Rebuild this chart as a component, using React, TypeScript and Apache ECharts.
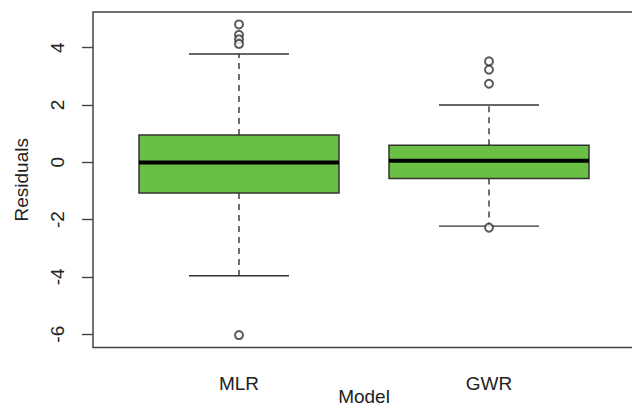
import React, { useEffect, useRef } from "react";
import * as echarts from "echarts";

const categories = ["MLR", "GWR"];
const whiskerLow = [-3.96, -2.23];
const q1 = [-1.07, -0.57];
const median = [-0.01, 0.05];
const q3 = [0.95, 0.59];
const whiskerHigh = [3.78, 2.0];
const outliersMLR = [4.81, 4.45, 4.29, 4.13, -6.03];
const outliersGWR = [3.52, 3.23, 2.74, -2.28];
const yTicks = [-6, -4, -2, 0, 2, 4];

const FONT = "'Liberation Sans', Arial, sans-serif";
const INK = "#333333";

export default function App() {
  const ref = useRef<HTMLDivElement>(null);
  useEffect(() => {
    if (!ref.current) return;
    const chart = echarts.init(ref.current, null, { renderer: "svg" });
    const boxData = categories.map((_, i) => [i + 1, whiskerLow[i], q1[i], median[i], q3[i], whiskerHigh[i]]);
    const outlierData: number[][] = [];
    outliersMLR.forEach((v) => outlierData.push([1, v]));
    outliersGWR.forEach((v) => outlierData.push([2, v]));

    chart.setOption({
      animation: false,
      backgroundColor: "#ffffff",
      grid: {
        left: 93,
        right: -3,
        top: 12,
        bottom: 405 - 347.5,
        outerBoundsMode: "none",
        containLabel: false,
        show: true,
        borderColor: "#444444",
        borderWidth: 1.5,
        backgroundColor: "transparent",
      },
      xAxis: {
        type: "value",
        min: 0.416,
        max: 2.584,
        name: "Model",
        nameLocation: "middle",
        nameGap: 39,
        nameMoveOverlap: false,
        nameTextStyle: { fontSize: 19, color: "#222", fontFamily: FONT },
        axisLine: { show: false },
        splitLine: { show: false },
        axisTick: {
          show: true,
          length: 11,
          customValues: [1, 2],
          lineStyle: { color: "#444", width: 1.4 },
        },
        axisLabel: {
          customValues: [1, 2],
          margin: 26,
          fontSize: 19,
          color: "#222",
          fontFamily: FONT,
          formatter: (v: number) => categories[Math.round(v) - 1] ?? "",
        },
      },
      yAxis: {
        type: "value",
        min: -6.464,
        max: 5.244,
        name: "Residuals",
        nameLocation: "middle",
        nameGap: 62,
        nameMoveOverlap: false,
        nameTextStyle: { fontSize: 19, color: "#222", fontFamily: FONT },
        axisLine: { show: false },
        splitLine: { show: false },
        axisTick: {
          show: true,
          length: 11,
          customValues: yTicks,
          lineStyle: { color: "#444", width: 1.4 },
        },
        axisLabel: {
          customValues: yTicks,
          rotate: 90,
          margin: 26,
          fontSize: 19,
          color: "#222",
          fontFamily: FONT,
        },
      },
      series: [
        {
          type: "custom",
          data: boxData,
          encode: { x: 0, y: [1, 2, 3, 4, 5] },
          renderItem: (params: any, api: any) => {
            const x = api.value(0);
            const half = api.size([0.8, 0])[0] / 2;
            const capHalf = half / 2;
            const pLow = api.coord([x, api.value(1)]);
            const pQ1 = api.coord([x, api.value(2)]);
            const pMed = api.coord([x, api.value(3)]);
            const pQ3 = api.coord([x, api.value(4)]);
            const pHigh = api.coord([x, api.value(5)]);
            const cx = pMed[0];
            const lineStyle = { stroke: INK, lineWidth: 1.4 };
            return {
              type: "group",
              children: [
                {
                  type: "line",
                  shape: { x1: cx, y1: pQ3[1], x2: cx, y2: pHigh[1] },
                  style: { ...lineStyle, lineDash: [6, 5] },
                },
                {
                  type: "line",
                  shape: { x1: cx, y1: pQ1[1], x2: cx, y2: pLow[1] },
                  style: { ...lineStyle, lineDash: [6, 5] },
                },
                {
                  type: "line",
                  shape: { x1: cx - capHalf, y1: pHigh[1], x2: cx + capHalf, y2: pHigh[1] },
                  style: lineStyle,
                },
                {
                  type: "line",
                  shape: { x1: cx - capHalf, y1: pLow[1], x2: cx + capHalf, y2: pLow[1] },
                  style: lineStyle,
                },
                {
                  type: "rect",
                  shape: { x: cx - half, y: pQ3[1], width: half * 2, height: pQ1[1] - pQ3[1] },
                  style: { fill: "#6abf45", stroke: INK, lineWidth: 1.5 },
                },
                {
                  type: "line",
                  shape: { x1: cx - half, y1: pMed[1], x2: cx + half, y2: pMed[1] },
                  style: { stroke: "#000000", lineWidth: 4 },
                },
              ],
            };
          },
        },
        {
          type: "scatter",
          data: outlierData,
          symbol: "emptyCircle",
          symbolSize: 8,
          itemStyle: { color: INK, borderColor: INK, borderWidth: 1.3 },
          z: 5,
        },
      ],
    });
    return () => chart.dispose();
  }, []);
  return (
    <div
      ref={ref}
      style={{ position: "absolute", left: 0, top: 0, width: 632, height: 405 }}
    />
  );
}
